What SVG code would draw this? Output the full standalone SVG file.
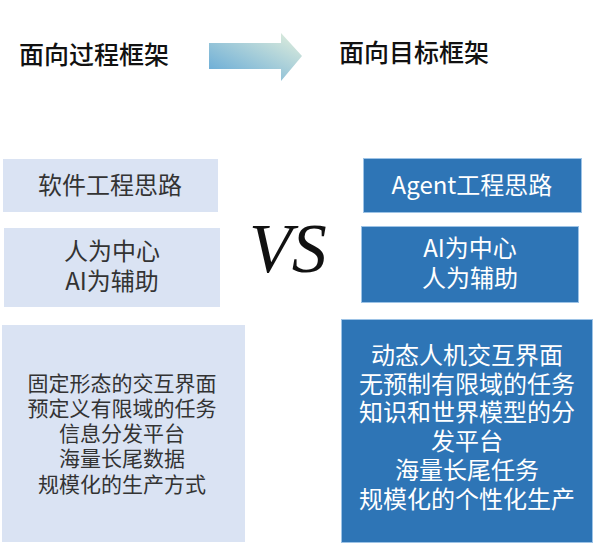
<svg xmlns="http://www.w3.org/2000/svg" width="601" height="551" viewBox="0 0 601 551">
<defs>
<linearGradient id="ag" x1="0" y1="1" x2="1" y2="0">
<stop offset="0" stop-color="#5fa6d6"/>
<stop offset="1" stop-color="#e4f0dc"/>
</linearGradient>
<style>
text{font-family:"Noto Sans CJK SC","Noto Sans",sans-serif;text-anchor:middle}
.title{font-size:25px;fill:#111;font-weight:500}
.lbox{fill:#dae3f3}
.rbox{fill:#2e75b6;stroke:#9dc3e6;stroke-width:1}
.lt{fill:#333;font-size:24px}
.rt{fill:#fff;font-size:24px}
.rt3{fill:#fff;font-size:24px}
.lt3{fill:#333;font-size:21px}
</style>
</defs>
<rect width="601" height="551" fill="#fff"/>
<g id="title-left"><text class="title" x="94" y="64">面向过程框架</text></g>
<g id="title-right"><text class="title" x="414" y="62">面向目标框架</text></g>
<g id="connectors">
<path d="M209 43 H281 V33 L302 56 L281 81 V69 H209 Z" fill="url(#ag)"/>
</g>
<g id="vs"><text x="288" y="272" style="font-family:'Liberation Serif',serif;font-style:italic;font-size:70px;fill:#111">VS</text></g>
<g id="left1"><rect class="lbox" x="3" y="159" width="215" height="53"/><text class="lt" x="110" y="194">软件工程思路</text></g>
<g id="left2"><rect class="lbox" x="4" y="228" width="216" height="79"/><text class="lt" x="112" y="260">人为中心</text><text class="lt" x="112" y="290">AI为辅助</text></g>
<g id="left3"><rect class="lbox" x="2" y="325" width="243" height="217"/>
<text class="lt3" x="122" y="391">固定形态的交互界面</text>
<text class="lt3" x="122" y="416">预定义有限域的任务</text>
<text class="lt3" x="122" y="441">信息分发平台</text>
<text class="lt3" x="122" y="466">海量长尾数据</text>
<text class="lt3" x="122" y="492">规模化的生产方式</text>
</g>
<g id="right1"><rect class="rbox" x="363.5" y="158.5" width="218" height="54"/><text class="rt" x="472" y="194">Agent工程思路</text></g>
<g id="right2"><rect class="rbox" x="361.5" y="226.5" width="217" height="76"/><text class="rt" x="470" y="257">AI为中心</text><text class="rt" x="470" y="287">人为辅助</text></g>
<g id="right3"><rect class="rbox" x="341.5" y="319.5" width="251" height="223"/>
<text class="rt3" x="467" y="364">动态人机交互界面</text>
<text class="rt3" x="467" y="393">无预制有限域的任务</text>
<text class="rt3" x="467" y="421">知识和世界模型的分</text>
<text class="rt3" x="467" y="450">发平台</text>
<text class="rt3" x="467" y="479">海量长尾任务</text>
<text class="rt3" x="467" y="508">规模化的个性化生产</text>
</g>
</svg>
